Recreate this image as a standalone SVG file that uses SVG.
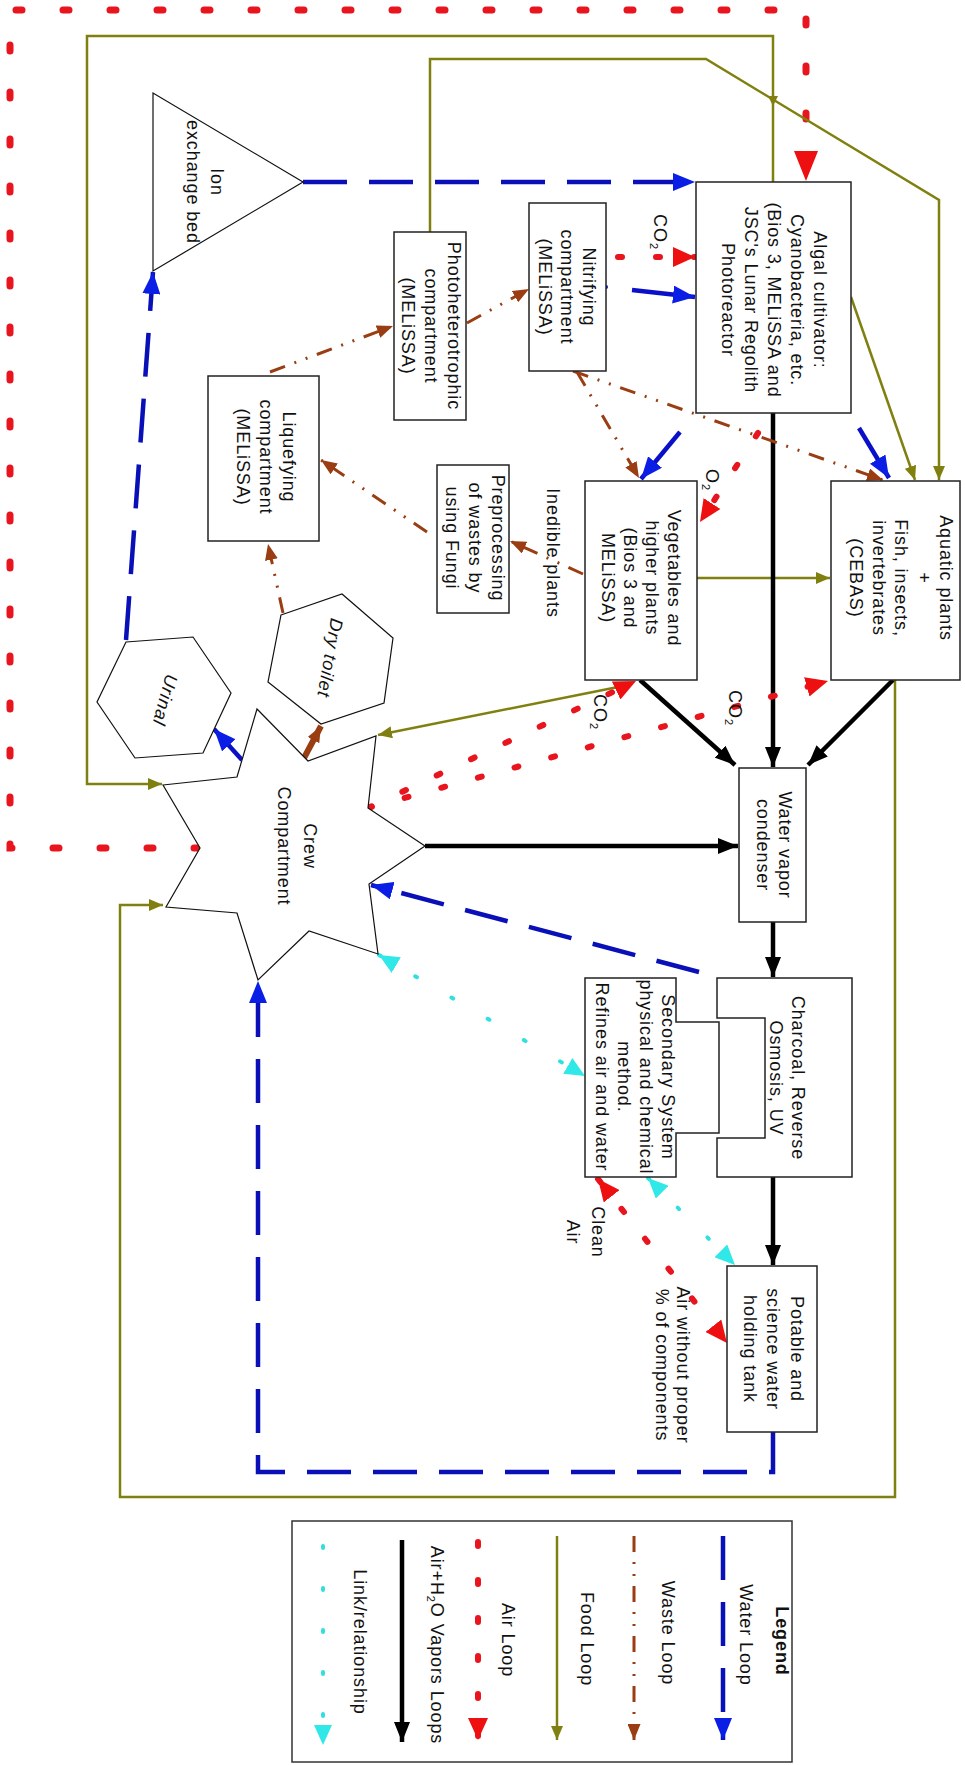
<svg xmlns="http://www.w3.org/2000/svg" width="965" height="1765" viewBox="0 0 965 1765">
<style>
.t{font-family:"Liberation Sans",Arial,sans-serif;font-size:18px;fill:#111;letter-spacing:0.9px;text-anchor:middle;dominant-baseline:central}
.it{font-style:italic}
.b{font-weight:bold}
.box{fill:#fff;stroke:#222;stroke-width:1.5}
.shape{fill:#fff;stroke:#111;stroke-width:1.2}
.water{fill:none;stroke:#0a10b8;stroke-width:4.5;stroke-dasharray:44 22}
.waters{fill:none;stroke:#0a10c8;stroke-width:4.5}
.waste{fill:none;stroke:#9a3d12;stroke-width:3;stroke-dasharray:16 10 2 10 2 10}
.wastes{fill:none;stroke:#9a3d12;stroke-width:6}
.food{fill:none;stroke:#808010;stroke-width:2.5}
.air{fill:none;stroke:#e8141e;stroke-width:7;stroke-linecap:round;stroke-dasharray:6 41}
.airs{fill:none;stroke:#e8141e;stroke-width:6;stroke-linecap:round;stroke-dasharray:4 34}
.vap{fill:none;stroke:#000;stroke-width:4.5}
.link{fill:none;stroke:#30e0e0;stroke-width:4;stroke-linecap:round;stroke-dasharray:2 40}
</style>
<defs>
<marker id="mb" viewBox="0 0 22 18" refX="22" refY="9" markerWidth="22" markerHeight="18" markerUnits="userSpaceOnUse" orient="auto"><path d="M0,0 L22,9 L0,18 z" fill="#0a1ee6"/></marker>
<marker id="mbr" viewBox="0 0 16 13" refX="16" refY="6.5" markerWidth="16" markerHeight="13" markerUnits="userSpaceOnUse" orient="auto"><path d="M0,0 L16,6.5 L0,13 z" fill="#9a3d12"/></marker>
<marker id="mo" viewBox="0 0 14 12" refX="14" refY="6" markerWidth="14" markerHeight="12" markerUnits="userSpaceOnUse" orient="auto"><path d="M0,0 L14,6 L0,12 z" fill="#808010"/></marker>
<marker id="mr" viewBox="0 0 22 20" refX="22" refY="10" markerWidth="22" markerHeight="20" markerUnits="userSpaceOnUse" orient="auto-start-reverse"><path d="M0,0 L22,10 L0,20 z" fill="#ee1010"/></marker>
<marker id="mrb" viewBox="0 0 30 24" refX="30" refY="12" markerWidth="30" markerHeight="24" markerUnits="userSpaceOnUse" orient="auto"><path d="M0,0 L30,12 L0,24 z" fill="#ee1010"/></marker>
<marker id="mk" viewBox="0 0 20 16" refX="20" refY="8" markerWidth="20" markerHeight="16" markerUnits="userSpaceOnUse" orient="auto"><path d="M0,0 L20,8 L0,16 z" fill="#000"/></marker>
<marker id="mc" viewBox="0 0 20 18" refX="20" refY="9" markerWidth="20" markerHeight="18" markerUnits="userSpaceOnUse" orient="auto-start-reverse"><path d="M0,0 L20,9 L0,18 z" fill="#30e8e8"/></marker>
</defs>
<rect width="965" height="1765" fill="#fff"/>

<g id="connectors">
  <path class="air" d="M200,848 H10 V10 H806 V181" marker-end="url(#mrb)"/>
  <path class="food" d="M773,182 V36 H87 V784 H162" marker-end="url(#mo)"/>
  <path class="food" d="M430,232 V59 H706 L939,200 V480" marker-end="url(#mo)"/>
  <path d="M768,96 L778,96 L773,106 z" fill="#808010"/>
  <path class="food" d="M851,297 L915,480" marker-end="url(#mo)"/>
  <path class="food" d="M697,578 H830" marker-end="url(#mo)"/>
  <path class="food" d="M618,687 L378,735" marker-end="url(#mo)"/>
  <path class="food" d="M895,680 V1497 H120 V905 H163" marker-end="url(#mo)"/>
  <path class="vap" d="M773,413 V767" marker-end="url(#mk)"/>
  <path class="vap" d="M640,680 L735,765" marker-end="url(#mk)"/>
  <path class="vap" d="M893,680 L808,765" marker-end="url(#mk)"/>
  <path class="vap" d="M425,846 H738" marker-end="url(#mk)"/>
  <path class="vap" d="M773,922 V977" marker-end="url(#mk)"/>
  <path class="vap" d="M773,1177 V1265" marker-end="url(#mk)"/>
  <path class="water" d="M303,182 H695" marker-end="url(#mb)"/>
  <path class="waters" d="M632,290 L695,297" marker-end="url(#mb)"/>
  <circle cx="606" cy="287" r="2" fill="#0a10c8"/>
  <path class="waters" d="M680,432 L641,479" marker-end="url(#mb)"/>
  <path class="waters" d="M859,428 L889,478" marker-end="url(#mb)"/>
  <path class="water" d="M699,972 L371,885" marker-end="url(#mb)"/>
  <path class="water" d="M773,1432 V1472 H258 V981" marker-end="url(#mb)"/>
  <path class="waters" d="M242,760 L214,729" marker-end="url(#mb)"/>
  <path class="water" d="M126,640 L153,272" marker-end="url(#mb)"/>
  <path class="waste" d="M283,613 L268,544" marker-end="url(#mbr)"/>
  <path class="waste" d="M427,532 L321,460" marker-end="url(#mbr)"/>
  <path class="waste" d="M583,574 L510,541" marker-end="url(#mbr)"/>
  <path class="waste" d="M270,372 L393,326" marker-end="url(#mbr)"/>
  <path class="waste" d="M467,323 L529,289" marker-end="url(#mbr)"/>
  <path class="waste" d="M577,372 L639,478" marker-end="url(#mbr)"/>
  <path class="waste" d="M573,371 L883,480" marker-end="url(#mbr)"/>
  <path class="wastes" d="M304,758 L321,726" marker-end="url(#mbr)"/>
  <path class="airs" d="M618,257 H695" marker-end="url(#mr)"/>
  <path class="airs" d="M758,433 L700,522" marker-end="url(#mr)"/>
  <path class="airs" d="M368,808 L636,681" marker-end="url(#mr)"/>
  <path class="airs" d="M368,808 L828,681" marker-end="url(#mr)"/>
  <circle cx="368" cy="808" r="3.5" fill="#e8141e"/>
  <path class="airs" d="M598,1179 L727,1343" marker-start="url(#mr)" marker-end="url(#mr)"/>
  <path class="link" d="M379,955 L585,1076" marker-start="url(#mc)" marker-end="url(#mc)"/>
  <path class="link" d="M648,1178 L735,1265" marker-start="url(#mc)" marker-end="url(#mc)"/>
</g>

<g id="ion-exchange">
  <polygon class="shape" points="153,93 153,271 303,182"/>
  <text class="t" transform="translate(205,182) rotate(90)"><tspan x="0" y="-12">Ion</tspan><tspan x="0" y="12">exchange bed</tspan></text>
</g>
<g id="photoheterotrophic">
  <rect class="box" x="394" y="232" width="72" height="188"/>
  <text class="t" transform="translate(431,326) rotate(90)"><tspan x="0" y="-23">Photoheterotrophic</tspan><tspan x="0" y="0">compartment</tspan><tspan x="0" y="23">(MELiSSA)</tspan></text>
</g>
<g id="nitrifying">
  <rect class="box" x="529" y="203" width="77" height="168"/>
  <text class="t" transform="translate(567,287) rotate(90)"><tspan x="0" y="-22">Nitrifying</tspan><tspan x="0" y="0">compartment</tspan><tspan x="0" y="22">(MELiSSA)</tspan></text>
</g>
<g id="algal">
  <rect class="box" x="696" y="182" width="155" height="231"/>
  <text class="t" transform="translate(774,300) rotate(90)"><tspan x="0" y="-46">Algal cultivator:</tspan><tspan x="0" y="-23">Cyanobacteria, etc.</tspan><tspan x="0" y="0">(Bios 3, MELiSSA and</tspan><tspan x="0" y="23">JSC's Lunar Regolith</tspan><tspan x="0" y="46">Photoreactor</tspan></text>
</g>
<g id="liquefying">
  <rect class="box" x="208" y="376" width="111" height="165"/>
  <text class="t" transform="translate(266,457) rotate(90)"><tspan x="0" y="-23">Liquefying</tspan><tspan x="0" y="0">compartment</tspan><tspan x="0" y="23">(MELiSSA)</tspan></text>
</g>
<g id="preprocessing">
  <rect class="box" x="437" y="465" width="72" height="148"/>
  <text class="t" transform="translate(475,538) rotate(90)"><tspan x="0" y="-23">Preprocessing</tspan><tspan x="0" y="0">of wastes by</tspan><tspan x="0" y="23">using Fungi</tspan></text>
</g>
<g id="inedible-label">
  <text class="t" transform="translate(553,553) rotate(90)">Inedible plants</text>
</g>
<g id="vegetables">
  <rect class="box" x="585" y="481" width="112" height="199"/>
  <text class="t" transform="translate(641,578) rotate(90)"><tspan x="0" y="-33">Vegetables and</tspan><tspan x="0" y="-11">higher plants</tspan><tspan x="0" y="11">(Bios 3 and</tspan><tspan x="0" y="33">MELiSSA)</tspan></text>
</g>
<g id="aquatic">
  <rect class="box" x="831" y="481" width="129" height="199"/>
  <text class="t" transform="translate(901,578) rotate(90)"><tspan x="0" y="-45">Aquatic plants</tspan><tspan x="0" y="-22.5">+</tspan><tspan x="0" y="0">Fish, insects,</tspan><tspan x="0" y="22.5">invertebrates</tspan><tspan x="0" y="45">(CEBAS)</tspan></text>
</g>
<g id="urinal">
  <polygon class="shape" points="126,642 193,637 231,693 203,753 135,758 97,702"/>
  <text class="t it" transform="translate(165,700) rotate(105)">Urinal</text>
</g>
<g id="dry-toilet">
  <polygon class="shape" points="281,615 342,594 393,638 384,703 321,724 268,682"/>
  <text class="t it" transform="translate(330,658) rotate(100)">Dry toilet</text>
</g>
<g id="crew">
  <polygon class="shape" points="163,785 237,777 257,709 308,761 376,736 368,808 425,846 369,884 378,954 309,931 258,980 237,913 166,907 200,848"/>
  <text class="t" transform="translate(297,846) rotate(90)"><tspan x="0" y="-13">Crew</tspan><tspan x="0" y="13">Compartment</tspan></text>
</g>
<g id="condenser">
  <rect class="box" x="739" y="768" width="67" height="154"/>
  <text class="t" transform="translate(774,845) rotate(90)"><tspan x="0" y="-11">Water vapor</tspan><tspan x="0" y="11">condenser</tspan></text>
</g>
<g id="charcoal">
  <path class="box" d="M717,978 H852 V1177 H717 V1138 H765 V1018 H717 Z"/>
  <text class="t" transform="translate(787,1078) rotate(90)"><tspan x="0" y="-11">Charcoal, Reverse</tspan><tspan x="0" y="11">Osmosis, UV</tspan></text>
</g>
<g id="secondary">
  <path class="box" d="M585,978 H676 V1022 H719 V1133 H676 V1177 H585 Z"/>
  <text class="t" transform="translate(635,1077) rotate(90)"><tspan x="0" y="-33">Secondary System</tspan><tspan x="0" y="-11">physical and chemical</tspan><tspan x="0" y="11">method.</tspan><tspan x="0" y="33">Refines air and water</tspan></text>
</g>
<g id="potable">
  <rect class="box" x="727" y="1266" width="90" height="166"/>
  <text class="t" transform="translate(773,1349) rotate(90)"><tspan x="0" y="-23.5">Potable and</tspan><tspan x="0" y="0">science water</tspan><tspan x="0" y="23.5">holding tank</tspan></text>
</g>
<g id="labels">
  <text class="t" transform="translate(660,232) rotate(90)">CO<tspan font-size="11" dy="6">2</tspan></text>
  <text class="t" transform="translate(712,480) rotate(90)">O<tspan font-size="11" dy="6">2</tspan></text>
  <text class="t" transform="translate(600,712) rotate(90)">CO<tspan font-size="11" dy="6">2</tspan></text>
  <text class="t" transform="translate(735,708) rotate(90)">CO<tspan font-size="11" dy="6">2</tspan></text>
  <text class="t" transform="translate(585,1232) rotate(90)"><tspan x="0" y="-12.5">Clean</tspan><tspan x="0" y="12.5">Air</tspan></text>
  <text class="t" transform="translate(672,1365) rotate(90)"><tspan x="0" y="-10.5">Air without proper</tspan><tspan x="0" y="10.5">% of components</tspan></text>
</g>
<g id="legend">
  <rect x="292" y="1521" width="500" height="241" fill="#fff" stroke="#333" stroke-width="1.5"/>
  <text class="t b" transform="translate(782,1641) rotate(90)">Legend</text>
  <path class="water" d="M723,1536 V1740" marker-end="url(#mb)"/>
  <text class="t" transform="translate(746,1635) rotate(90)">Water Loop</text>
  <path class="waste" d="M634,1536 V1740" marker-end="url(#mbr)"/>
  <text class="t" transform="translate(668,1633) rotate(90)">Waste Loop</text>
  <path class="food" d="M557,1536 V1740" marker-end="url(#mo)"/>
  <text class="t" transform="translate(587,1639) rotate(90)">Food Loop</text>
  <path class="airs" d="M478,1542 V1740" marker-end="url(#mr)"/>
  <text class="t" transform="translate(508,1640) rotate(90)">Air Loop</text>
  <path class="vap" d="M402,1540 V1742" marker-end="url(#mk)"/>
  <text class="t" transform="translate(437,1645) rotate(90)">Air+H<tspan font-size="11" dy="6">2</tspan><tspan dy="-6">O Vapors Loops</tspan></text>
  <path class="link" d="M323,1546 V1745" marker-end="url(#mc)"/>
  <text class="t" transform="translate(360,1642) rotate(90)">Link/relationship</text>
</g>
</svg>
